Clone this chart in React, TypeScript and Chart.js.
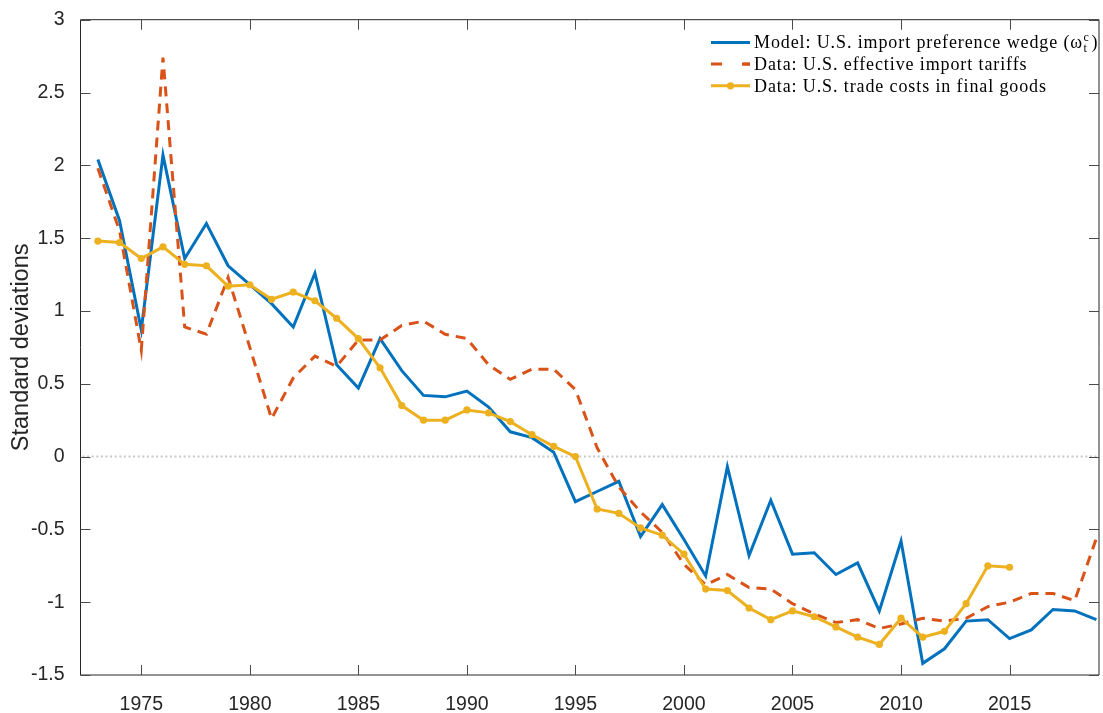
import React, { useEffect, useRef } from "react";
import { Chart, registerables } from "chart.js";

Chart.register(...registerables);

const BLUE = "#0072BD";
const RED = "#D95319";
const YELLOW = "#EDB120";
const AXIS = "#262626";

const years = [
  1973, 1974, 1975, 1976, 1977, 1978, 1979, 1980, 1981, 1982,
  1983, 1984, 1985, 1986, 1987, 1988, 1989, 1990, 1991, 1992,
  1993, 1994, 1995, 1996, 1997, 1998, 1999, 2000, 2001, 2002,
  2003, 2004, 2005, 2006, 2007, 2008, 2009, 2010, 2011, 2012,
  2013, 2014, 2015, 2016, 2017, 2018, 2019,
];

const modelWedge = [
  2.04, 1.62, 0.87, 2.07, 1.36, 1.6, 1.31, 1.18, 1.05, 0.89,
  1.26, 0.63, 0.47, 0.81, 0.59, 0.42, 0.41, 0.45, 0.34, 0.17,
  0.13, 0.03, -0.31, -0.24, -0.17, -0.55, -0.33, -0.57, -0.82, -0.07,
  -0.68, -0.3, -0.67, -0.66, -0.81, -0.73, -1.06, -0.58, -1.42, -1.32,
  -1.13, -1.12, -1.25, -1.19, -1.05, -1.06, -1.12,
];

const tariffs = [
  1.98, 1.55, 0.73, 2.74, 0.89, 0.84, 1.23, 0.75, 0.26, 0.54,
  0.69, 0.62, 0.8, 0.8, 0.9, 0.93, 0.84, 0.81, 0.63, 0.53,
  0.6, 0.6, 0.46, 0.06, -0.21, -0.38, -0.52, -0.74, -0.88, -0.81,
  -0.9, -0.91, -1.01, -1.08, -1.14, -1.12, -1.18, -1.15, -1.11, -1.13,
  -1.11, -1.03, -1.0, -0.94, -0.94, -0.99, -0.56,
];

const tradeCostYears = [
  1973, 1974, 1975, 1976, 1977, 1978, 1979, 1980, 1981, 1982,
  1983, 1984, 1985, 1986, 1987, 1988, 1989, 1990, 1991, 1992,
  1993, 1994, 1995, 1996, 1997, 1998, 1999, 2000, 2001, 2002,
  2003, 2004, 2005, 2006, 2007, 2008, 2009, 2010, 2011, 2012,
  2013, 2014, 2015,
];

const tradeCosts = [
  1.48, 1.47, 1.36, 1.44, 1.32, 1.31, 1.17, 1.18, 1.08, 1.13,
  1.07, 0.95, 0.81, 0.61, 0.35, 0.25, 0.25, 0.32, 0.3, 0.24,
  0.15, 0.07, 0.0, -0.36, -0.39, -0.49, -0.54, -0.67, -0.91, -0.92,
  -1.04, -1.12, -1.06, -1.1, -1.17, -1.24, -1.29, -1.11, -1.24, -1.2,
  -1.01, -0.75, -0.76,
];

const xTickValues = [1975, 1980, 1985, 1990, 1995, 2000, 2005, 2010, 2015];
const yTickValues = [-1.5, -1, -0.5, 0, 0.5, 1, 1.5, 2, 2.5, 3];
const legendLabels = [
  "Model: U.S. import preference wedge",
  "Data: U.S. effective import tariffs",
  "Data: U.S. trade costs in final goods",
];
const yTitle = "Standard deviations";

const X_MIN = 1972.2;
const X_MAX = 2019.12;

const LEGEND_FONT = "18px 'Liberation Serif'";
const LEGEND_SMALL = "12px 'Liberation Serif'";

const decorPlugin = {
  id: "decor",
  beforeDatasetsDraw(chart: any) {
    const { ctx, chartArea, scales } = chart;
    const y0 = scales.y.getPixelForValue(0);
    ctx.save();
    ctx.strokeStyle = "#c8c8c8";
    ctx.lineWidth = 2;
    ctx.setLineDash([2, 2.6]);
    ctx.beginPath();
    ctx.moveTo(chartArea.left + 2, y0);
    ctx.lineTo(chartArea.right, y0);
    ctx.stroke();
    ctx.restore();
  },
  afterDatasetsDraw(chart: any) {
    const { ctx, chartArea, scales } = chart;
    const { left, right, top, bottom } = chartArea;
    ctx.save();
    // box
    ctx.strokeStyle = AXIS;
    ctx.lineWidth = 1;
    ctx.setLineDash([]);
    ctx.beginPath();
    ctx.rect(left, top, right - left, bottom - top);
    ctx.stroke();
    // ticks
    const tl = 10;
    ctx.strokeStyle = "#4a4a4a";
    ctx.beginPath();
    xTickValues.forEach((v) => {
      const px = Math.round(scales.x.getPixelForValue(v)) + 0.5;
      ctx.moveTo(px, bottom);
      ctx.lineTo(px, bottom - tl);
      ctx.moveTo(px, top);
      ctx.lineTo(px, top + tl);
    });
    yTickValues.forEach((v) => {
      const py = Math.round(scales.y.getPixelForValue(v)) + 0.5;
      ctx.moveTo(left, py);
      ctx.lineTo(left + tl, py);
      ctx.moveTo(right, py);
      ctx.lineTo(right - tl, py);
    });
    ctx.stroke();

    // legend
    const colors = [BLUE, RED, YELLOW];
    const lx0 = right - 388;
    const lx1 = right - 349;
    const tx = right - 345;
    // letter spacing so that the widest entry matches the reference width
    ctx.font = LEGEND_FONT;
    const ref = legendLabels[2];
    const baseW = ctx.measureText(ref).width;
    const spacing = Math.max(0, (292 - baseW) / (ref.length - 1));
    legendLabels.forEach((label, i) => {
      const y = top + 22.7 + i * 21.7;
      ctx.strokeStyle = colors[i];
      ctx.lineWidth = 3;
      ctx.setLineDash(i === 1 ? [11, 21] : []);
      ctx.beginPath();
      ctx.moveTo(lx0, y);
      ctx.lineTo(lx1, y);
      ctx.stroke();
      if (i === 1) {
        ctx.setLineDash([]);
        ctx.beginPath();
        ctx.moveTo(lx1 - 8, y);
        ctx.lineTo(lx1, y);
        ctx.stroke();
      }
      if (i === 2) {
        ctx.fillStyle = YELLOW;
        ctx.beginPath();
        ctx.arc((lx0 + lx1) / 2, y, 3.6, 0, Math.PI * 2);
        ctx.fill();
      }
      ctx.setLineDash([]);
      ctx.fillStyle = "#000";
      ctx.textBaseline = "middle";
      ctx.textAlign = "left";
      ctx.font = LEGEND_FONT;
      (ctx as any).letterSpacing = spacing.toFixed(2) + "px";
      if (i === 0) {
        const main = label + " (ω";
        ctx.fillText(main, tx, y + 1);
        const w = ctx.measureText(main).width;
        (ctx as any).letterSpacing = "0px";
        ctx.font = LEGEND_SMALL;
        ctx.fillText("c", tx + w + 0.5, y - 5);
        ctx.fillText("t", tx + w + 0.5, y + 6);
        const sw = Math.max(ctx.measureText("c").width, ctx.measureText("t").width);
        ctx.font = LEGEND_FONT;
        ctx.fillText(")", tx + w + sw + 3, y + 1);
      } else {
        ctx.fillText(label, tx, y + 1);
      }
      (ctx as any).letterSpacing = "0px";
    });
    ctx.restore();
  },
};

export default function App() {
  const ref = useRef<HTMLCanvasElement | null>(null);

  useEffect(() => {
    if (!ref.current) return;
    const chart = new Chart(ref.current, {
      type: "line",
      data: {
        datasets: [
          {
            label: legendLabels[0],
            data: years.map((x, i) => ({ x, y: modelWedge[i] })),
            borderColor: BLUE,
            backgroundColor: BLUE,
            borderWidth: 3,
            pointRadius: 0,
            tension: 0,
            order: 2,
          },
          {
            label: legendLabels[1],
            data: years.map((x, i) => ({ x, y: tariffs[i] })),
            borderColor: RED,
            backgroundColor: RED,
            borderWidth: 3,
            borderDash: [10, 7],
            pointRadius: 0,
            tension: 0,
            order: 1,
          },
          {
            label: legendLabels[2],
            data: tradeCostYears.map((x, i) => ({ x, y: tradeCosts[i] })),
            borderColor: YELLOW,
            backgroundColor: YELLOW,
            borderWidth: 3,
            pointRadius: 3.6,
            pointBorderWidth: 0,
            pointBackgroundColor: YELLOW,
            tension: 0,
            order: 0,
          },
        ],
      },
      options: {
        animation: false,
        responsive: false,
        devicePixelRatio: 1,
        clip: false,
        layout: { padding: { top: 14, right: 3, left: 0, bottom: 0 } },
        plugins: {
          legend: { display: false },
          tooltip: { enabled: false },
        },
        scales: {
          x: {
            type: "linear",
            min: X_MIN,
            max: X_MAX,
            grid: { display: false },
            border: { display: false },
            afterBuildTicks: (scale: any) => {
              scale.ticks = xTickValues.map((v) => ({ value: v }));
            },
            afterFit: (scale: any) => {
              scale.height = 38;
            },
            ticks: {
              autoSkip: false,
              maxRotation: 0,
              padding: 10,
              color: AXIS,
              font: { family: "'Liberation Sans'", size: 19.5, lineHeight: 1.2 },
              callback: (v: any) => String(v),
            },
          },
          y: {
            type: "linear",
            min: -1.5,
            max: 3,
            grid: { display: false },
            border: { display: false },
            afterBuildTicks: (scale: any) => {
              scale.ticks = yTickValues.map((v) => ({ value: v }));
            },
            afterFit: (scale: any) => {
              scale.width = 80.5;
            },
            title: {
              display: true,
              text: yTitle,
              color: AXIS,
              font: { family: "'Liberation Sans'", size: 23.5, lineHeight: 1.2 },
              padding: { top: 7, bottom: 0 },
            },
            ticks: {
              padding: 8,
              color: AXIS,
              font: { family: "'Liberation Sans'", size: 19.5 },
              callback: (v: any) => String(v),
            },
          },
        },
      },
      plugins: [decorPlugin],
    });
    return () => chart.destroy();
  }, []);

  return (
    <canvas
      ref={ref}
      width={1103}
      height={713}
      style={{ position: "absolute", left: 0, top: 0, display: "block" }}
    />
  );
}
